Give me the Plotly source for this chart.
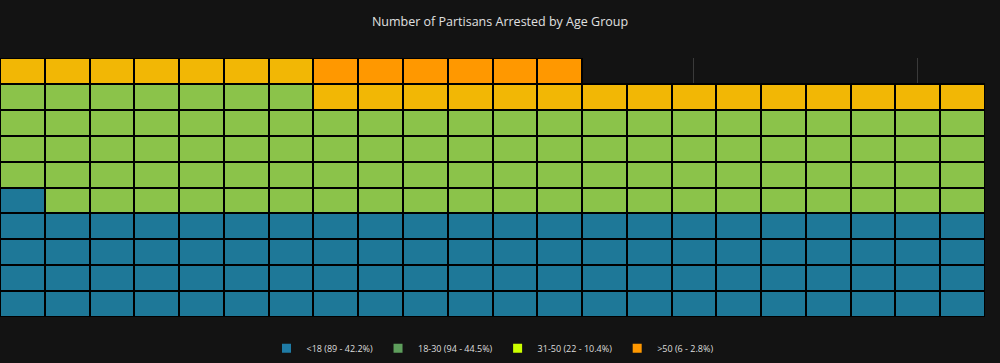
import plotly.graph_objects as go

groups = ["<18", "18-30", "31-50", ">50"]
counts = [89, 94, 22, 6]
cell_colors = ["#1e7898", "#8bc34a", "#f2b705", "#ff9800"]
legend_colors = ["#1f7ba5", "#5e9e5c", "#ccff00", "#ff9800"]
n_cols = 22

total = sum(counts)
labels = [f"{g} ({c} - {c / total * 100:.1f}%)" for g, c in zip(groups, counts)]

# build the sequence of cells (bottom row first, left to right)
seq = []
for gi, c in enumerate(counts):
    seq += [gi] * c
n_rows = (len(seq) + n_cols - 1) // n_cols

fig = go.Figure()
for r in range(n_rows):
    row_cells = seq[r * n_cols:(r + 1) * n_cols]
    xs = list(range(len(row_cells)))
    fig.add_trace(go.Bar(
        x=xs, y=[1] * len(xs), base=[r - 0.5] * len(xs),
        marker=dict(color=[cell_colors[g] for g in row_cells],
                    line=dict(color="#000000", width=2)),
        showlegend=False, hoverinfo="skip", width=1,
    ))

for lab, col in zip(labels, legend_colors):
    fig.add_trace(go.Scatter(
        x=[None], y=[None], mode="markers", name=lab,
        marker=dict(symbol="square", size=9, color=col),
    ))

fig.update_layout(
    title=dict(text="Number of Partisans Arrested by Age Group", x=0.5, xanchor="center",
               yref="container", y=1 - 22 / 363, yanchor="middle",
               font=dict(size=12.5, color="#e0e0e0")),
    paper_bgcolor="#131313", plot_bgcolor="#131313",
    font=dict(family="Open Sans", color="#dddddd", size=9),
    barmode="overlay", bargap=0,
    margin=dict(l=0, r=15, t=58, b=46),
    width=1000, height=363,
    xaxis=dict(range=[-0.5, n_cols - 0.5], showticklabels=False, showgrid=True,
               gridcolor="#3a3a3a", zeroline=False, dtick=5, tick0=0),
    yaxis=dict(range=[-0.5, n_rows - 0.5], showticklabels=False, showgrid=True,
               gridcolor="#3a3a3a", zeroline=False),
    legend=dict(orientation="h", x=0.5, xanchor="center", y=-0.065, yanchor="top",
                font=dict(size=9, color="#dddddd")),
    showlegend=True,
)

fig.write_html("out.html", config={"displayModeBar": False},
               post_script="document.body.style.margin='0';document.body.style.overflow='hidden';")
